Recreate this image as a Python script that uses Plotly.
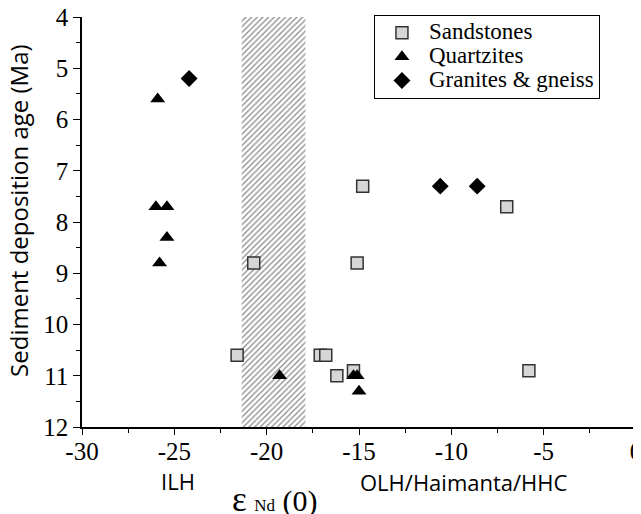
import plotly.graph_objects as go

# Data
sand_eps = [-20.7, -21.6, -17.1, -16.8, -16.2, -15.3, -14.8, -15.1, -7.0, -5.8]
sand_age = [8.8, 10.6, 10.6, 10.6, 11.0, 10.9, 7.3, 8.8, 7.7, 10.9]

quartz_eps = [-25.9, -26.0, -25.4, -25.4, -25.8, -19.3, -15.3, -15.1, -15.0]
quartz_age = [5.6, 7.7, 7.7, 8.3, 8.8, 11.0, 11.0, 11.0, 11.3]

granite_eps = [-24.2, -10.6, -8.6]
granite_age = [5.2, 7.3, 7.3]

gap_eps = [-21.35, -17.9]   # hatched band
age_range = [4, 12]

x_ticks = [-30, -25, -20, -15, -10, -5, 0]
y_ticks = [4, 5, 6, 7, 8, 9, 10, 11, 12]

serif = "Liberation Serif"
sans = "Open Sans"


def big(name):
    return "<span style='font-size:23px'>" + name + "</span>"


fig = go.Figure()

# hatched band
fig.add_trace(go.Scatter(
    x=[gap_eps[0], gap_eps[1], gap_eps[1], gap_eps[0], gap_eps[0]],
    y=[age_range[0], age_range[0], age_range[1], age_range[1], age_range[0]],
    mode="lines", fill="toself", line=dict(width=0, color="rgba(0,0,0,0)"),
    fillcolor="white",
    fillpattern=dict(shape="/", fgcolor="#111111", bgcolor="white", size=4, solidity=0.3),
    showlegend=False, hoverinfo="skip"))

fig.add_trace(go.Scatter(
    x=sand_eps, y=sand_age, mode="markers", name=big("Sandstones"),
    marker=dict(symbol="square", size=12, color="#d6d6d6",
                line=dict(color="#333333", width=1.5))))
fig.add_trace(go.Scatter(
    x=quartz_eps, y=quartz_age, mode="markers", name=big("Quartzites"),
    marker=dict(symbol="triangle-up", size=13, color="black")))
fig.add_trace(go.Scatter(
    x=granite_eps, y=granite_age, mode="markers", name=big("Granites &amp; gneiss"),
    marker=dict(symbol="diamond", size=13, color="black")))

fig.update_layout(
    width=641, height=514,
    margin=dict(l=74, r=13, t=9, b=95, autoexpand=False),
    plot_bgcolor="white", paper_bgcolor="white",
    showlegend=True,
    legend=dict(x=0.527, y=1.005, xanchor="left", yanchor="top",
                bordercolor="black", borderwidth=1, bgcolor="white",
                font=dict(family=serif, size=16, color="black"),
                itemwidth=44, tracegroupgap=0),
    xaxis=dict(range=[-30, 0], tickvals=x_ticks, ticktext=[str(v) for v in x_ticks],
               automargin=False, ticklabeloverflow="allow", ticklabelstandoff=-5,
               showgrid=False, zeroline=False, showline=True, linecolor="black",
               linewidth=1.5, ticks="outside", ticklen=6, tickwidth=1.2,
               tickcolor="black",
               minor=dict(dtick=2.5, ticks="outside", ticklen=4, tickcolor="black",
                          tickwidth=1.2),
               tickfont=dict(family=serif, size=25, color="black")),
    yaxis=dict(range=[12, 4], tickvals=y_ticks, showgrid=False, zeroline=False,
               automargin=False, ticklabeloverflow="allow",
               showline=True, linecolor="black", linewidth=1.5, ticks="outside",
               ticklen=7, tickwidth=1.2, tickcolor="black",
               minor=dict(dtick=0.5, ticks="outside", ticklen=4, tickcolor="black",
                          tickwidth=1.2),
               tickfont=dict(family=serif, size=25, color="black")),
    annotations=[
        dict(text="Sediment deposition age (Ma)", x=-0.1137, xref="paper",
             y=0.527, yref="paper", textangle=-90, showarrow=False,
             xanchor="center", yanchor="middle",
             font=dict(family=sans, size=24, color="black")),
        dict(text="ILH", x=-24.8, xref="x", y=-0.132, yref="paper", showarrow=False,
             xanchor="center", yanchor="middle",
             font=dict(family=sans, size=22, color="black")),
        dict(text="OLH/Haimanta/HHC", x=-9.3, xref="x", y=-0.134, yref="paper",
             xanchor="center", yanchor="middle",
             showarrow=False, font=dict(family=sans, size=22, color="black")),
        dict(text="<span style='font-size:35px'>ε</span> <span style='font-size:17px'>Nd</span> <span style='font-size:30px'>(0)</span>",
             x=-19.6, xref="x", y=-0.178, yref="paper", showarrow=False,
             xanchor="center", yanchor="middle",
             font=dict(family=serif, size=30, color="black")),
    ],
)

fig.write_html("out.html")
